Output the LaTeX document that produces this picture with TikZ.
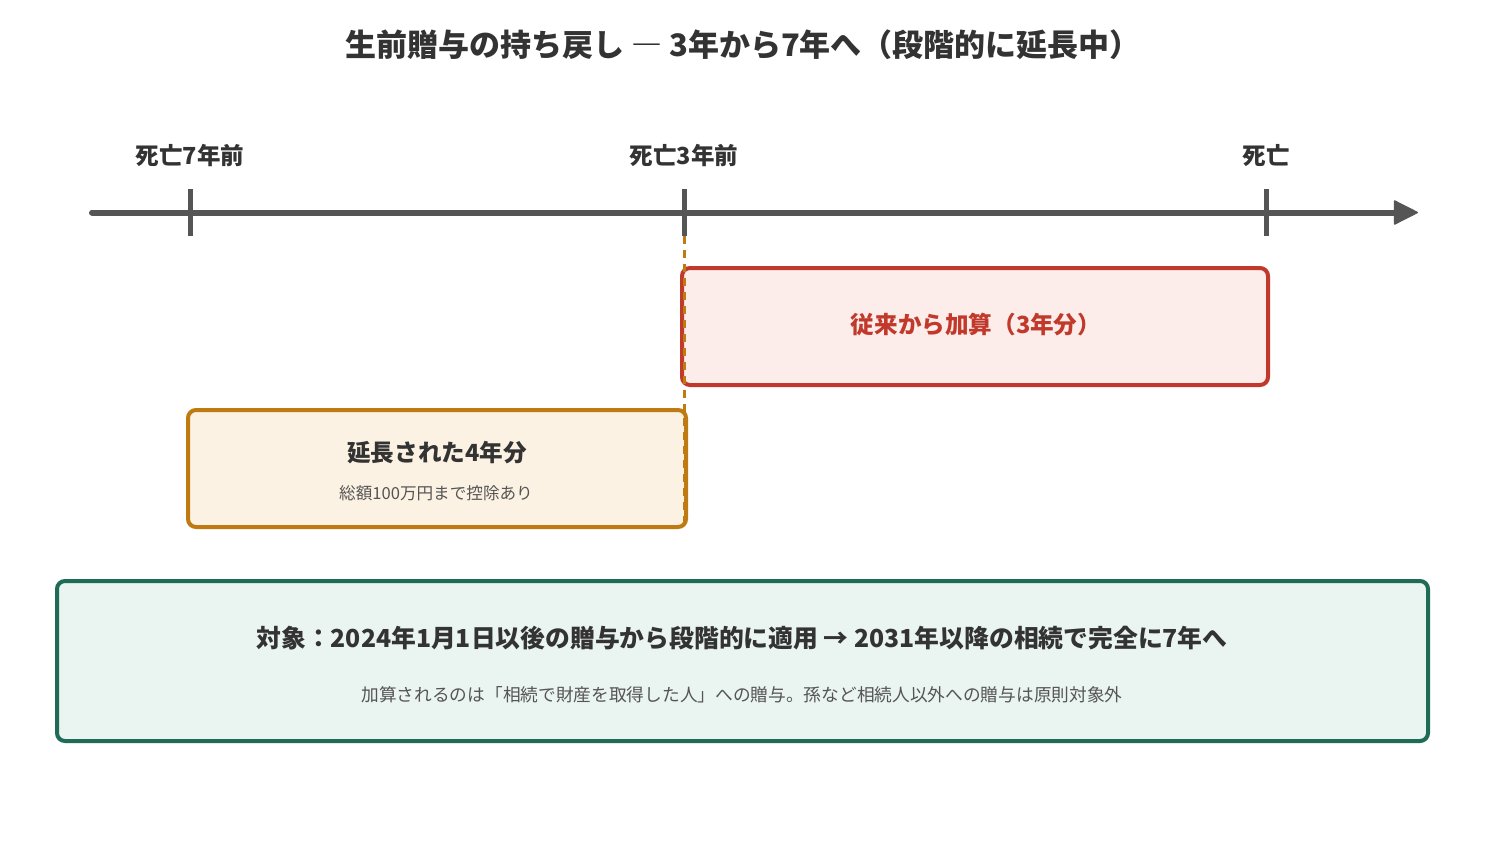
\documentclass[tikz,border=0pt]{standalone}
\usepackage{fontspec}
\setmainfont{Noto Sans CJK JP}
\usetikzlibrary{arrows.meta}
\definecolor{axis}{HTML}{555555}
\definecolor{ink}{HTML}{333333}
\definecolor{subink}{HTML}{555555}
\definecolor{redline}{HTML}{C0392B}
\definecolor{redfill}{HTML}{FCEDEB}
\definecolor{orline}{HTML}{BF7A12}
\definecolor{orfill}{HTML}{FCF2E3}
\definecolor{grline}{HTML}{1F6B57}
\definecolor{grfill}{HTML}{EAF4F0}
\tikzset{
  boxbase/.style={draw, line width=4pt, rounded corners=8pt, inner sep=0pt},
  redbox/.style={boxbase, draw=redline, fill=redfill},
  orbox/.style={boxbase, draw=orline, fill=orfill},
  grbox/.style={boxbase, draw=grline, fill=grfill},
  titletext/.style={font=\bfseries\fontsize{31}{36}\selectfont, text=ink, inner sep=0pt},
  ticklabel/.style={font=\bfseries\fontsize{23.5}{27}\selectfont, text=ink, inner sep=0pt},
  boldtext/.style={font=\bfseries\fontsize{23.6}{28}\selectfont, inner sep=0pt},
  bigbold/.style={font=\bfseries\fontsize{24.8}{29}\selectfont, inner sep=0pt},
  smalltext/.style={font=\fontsize{16.6}{20}\selectfont, text=subink, inner sep=0pt},
  smalltextb/.style={font=\fontsize{17.7}{21}\selectfont, text=subink, inner sep=0pt},
  ticklines/.style={draw=axis, line width=5pt},
  axisline/.style={draw=axis, line width=6pt, line cap=round, -{Triangle[length=25pt,width=25pt,line join=round,line width=1.5pt]}},
  guide/.style={draw=orline, line width=3pt, dash pattern=on 8pt off 6pt}
}
\begin{document}
\begin{tikzpicture}[x=1pt,y=-1pt]
\useasboundingbox[fill=white] (0,0) rectangle (1485,854);
% title
\node[titletext] (title) at (743,45) {生前贈与の持ち戻し ― 3年から7年へ（段階的に延長中）};
% timeline
\coordinate (tstart) at (92,212.5);
\coordinate (tend) at (1418,212.5);
\draw[axisline] (tstart) -- (tend);
\coordinate (t7a) at (190,189); \coordinate (t7b) at (190,236);
\coordinate (t3a) at (684,189); \coordinate (t3b) at (684,236);
\coordinate (t0a) at (1266,189); \coordinate (t0b) at (1266,236);
\draw[ticklines] (t7a) -- (t7b);
\draw[ticklines] (t3a) -- (t3b);
\draw[ticklines] (t0a) -- (t0b);
\node[ticklabel] (l7) at (190,156) {死亡7年前};
\node[ticklabel] (l3) at (684,156) {死亡3年前};
\node[ticklabel] (l0) at (1266,156) {死亡};
% boxes
\node[redbox, minimum width=586pt, minimum height=117pt] (red) at (975,326.5) {};
\node[boldtext, text=redline] (redt) at (976,325) {従来から加算（3年分）};
\node[orbox, minimum width=498pt, minimum height=117pt] (orange) at (437,468.5) {};
\node[boldtext, text=ink] (ort) at (437,453) {延長された4年分};
\node[smalltext] (ors) at (436,493) {総額100万円まで控除あり};
% guide
\coordinate (gend) at (684,528);
\draw[guide] (t3b) -- (gend);
% bottom
\node[grbox, minimum width=1371pt, minimum height=160pt] (green) at (742.5,661) {};
\node[bigbold, text=ink] (grt) at (742,638) {対象：2024年1月1日以後の贈与から段階的に適用 → 2031年以降の相続で完全に7年へ};
\node[smalltextb] (grs) at (742,695) {加算されるのは「相続で財産を取得した人」への贈与。孫など相続人以外への贈与は原則対象外};
\end{tikzpicture}
\end{document}
